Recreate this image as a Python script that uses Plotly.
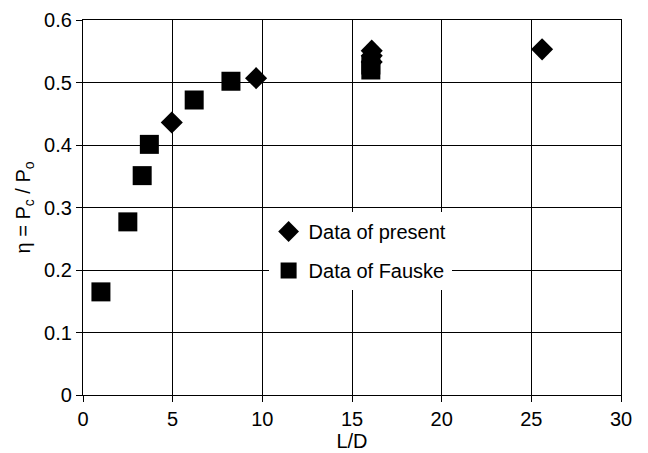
import plotly.graph_objects as go

# Data of present (diamonds)
present_LD = [4.95, 9.65, 16.1, 16.1, 16.1, 25.6]
present_eta = [0.436, 0.507, 0.533, 0.543, 0.551, 0.553]

# Data of Fauske (squares)
fauske_LD = [1.0, 2.5, 3.3, 3.7, 6.2, 8.25, 16.05, 16.05]
fauske_eta = [0.165, 0.277, 0.351, 0.401, 0.472, 0.502, 0.520, 0.528]

x_ticks = [0, 5, 10, 15, 20, 25, 30]
y_ticks = [0, 0.1, 0.2, 0.3, 0.4, 0.5, 0.6]
y_tick_text = ["0", "0.1", "0.2", "0.3", "0.4", "0.5", "0.6"]

FONT = "Liberation Sans, Arial, Helvetica, sans-serif"

fig = go.Figure()
fig.add_trace(go.Scatter(
    x=present_LD, y=present_eta, mode="markers", name="Data of present",
    legendgroup="a",
    marker=dict(symbol="diamond", size=17, color="black", line=dict(width=0)),
))
fig.add_trace(go.Scatter(
    x=fauske_LD, y=fauske_eta, mode="markers", name="Data of Fauske",
    legendgroup="b",
    marker=dict(symbol="square", size=19, color="black", line=dict(width=0)),
))

axis_common = dict(
    showgrid=True, gridcolor="black", gridwidth=1.3,
    showline=True, linecolor="black", linewidth=1.3, mirror=True,
    ticks="outside", ticklen=6, tickcolor="black", tickwidth=1.3,
    zeroline=False, automargin=False, ticklabeloverflow="allow",
    tickfont=dict(family=FONT, size=20, color="black"),
)

fig.update_xaxes(range=[0, 30], tickvals=x_ticks,
                 title=dict(text="L/D", font=dict(family=FONT, size=20, color="black"), standoff=0),
                 **axis_common)
fig.update_yaxes(range=[0, 0.6], tickvals=y_ticks, ticktext=y_tick_text,
                 title=dict(text="η = P<sub>c</sub> / P<sub>o</sub>",
                            font=dict(family=FONT, size=20, color="black"), standoff=8),
                 **axis_common)

fig.update_layout(
    width=640, height=445,
    margin=dict(l=75, r=27, t=12, b=58),
    paper_bgcolor="white", plot_bgcolor="white",
    showlegend=True,
    legend=dict(
        x=0.345, y=0.488, xanchor="left", yanchor="top",
        bgcolor="white", borderwidth=0,
        font=dict(family=FONT, size=20, color="black"),
        tracegroupgap=10,
        traceorder="grouped",
        itemwidth=30,
    ),
)

fig.write_html("out.html")
